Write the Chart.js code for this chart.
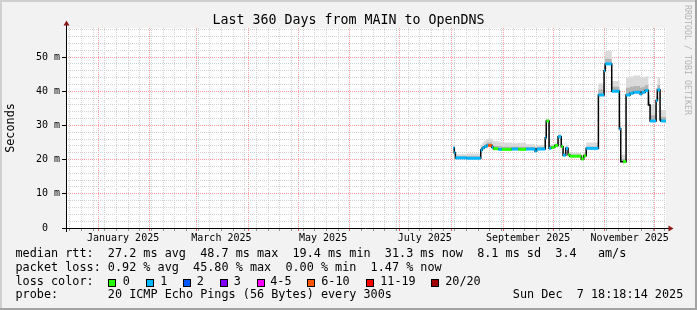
<!DOCTYPE html>
<html>
<head>
<meta charset="utf-8">
<title>Last 360 Days from MAIN to OpenDNS</title>
<script src="https://cdn.jsdelivr.net/npm/chart.js@4.4.1/dist/chart.umd.min.js"></script>
<style>
  html, body { margin: 0; padding: 0; background: #f2f2f2; }
  #wrap { position: relative; width: 697px; height: 310px; overflow: hidden;
          font-family: "DejaVu Sans Mono", monospace; color: #000; }
  #wrap canvas { position: absolute; left: 0; top: 0; }
  .txt { position: absolute; white-space: pre; line-height: 1; }
  #title { left: 0; width: 697px; top: 13px; text-align: center; font-size: 13.3px; }
  .leg { font-size: 11.8px; }
  .box { position: absolute; width: 6px; height: 6px; border: 1px solid #000; }
  #mark { font-size: 8.3px; color: #b4b4b4; left: 691.5px; top: 5px;
          transform: rotate(90deg); transform-origin: 0 0; }
</style>
</head>
<body>
<div id="wrap">
  <canvas id="chart" width="697" height="310"></canvas>
  <div class="txt" id="title">Last 360 Days from MAIN to OpenDNS</div>
  <div class="txt" id="mark">RRDTOOL / TOBI OETIKER</div>
  <div id="legend"></div>
</div>
<script>
// ── Data ─────────────────────────────────────────────────
// x = days since 1 Jan 2025, values in milliseconds

const DAYS = [
  213.1, 213.7, 214.4, 221.0, 229.6, 230.5, 231.7, 233.2, 234.1, 236.2,
  237.1, 240.1, 242.2, 248.2, 252.1, 256.8, 262.2, 263.2, 268.3, 268.9,
  270.6, 271.9, 274.0, 276.0, 277.9, 279.0, 280.6, 282.0, 283.0, 289.9,
  291.4, 292.9, 300.2, 303.6, 304.3, 308.2, 312.8, 313.6, 315.0, 316.8,
  319.2, 321.2, 325.2, 326.2, 328.2, 330.2, 331.2, 334.8, 335.6, 337.2,
  337.6, 340.76
];
const MEDIAN_MS = [
  23.4, 22.0, 20.5, 20.4, 22.8, 23.4, 23.8, 24.1, 24.1, 23.6,
  23.2, 23.0, 23.0, 23.1, 23.0, 23.1, 22.5, 23.1, 26.4, 31.3,
  23.3, 23.6, 24.1, 26.7, 23.8, 21.3, 23.3, 21.4, 21.0, 20.2,
  21.1, 23.3, 38.9, 46.0, 48.0, 40.0, 29.0, 19.4, 19.4, 38.9,
  39.4, 39.7, 39.2, 39.7, 40.2, 36.0, 31.3, 37.3, 40.4, 31.6,
  31.3, 31.3
];
// loss bucket index into LOSS_NAMES (null = no colour drawn)
const LOSS_BUCKET = [
  1, 1, 1, 1, 1, 1, 1, 1, 5, 1,
  0, 1, 0, 1, 0, 1, 1, 1, 1, 0,
  1, 0, 0, 1, 0, 1, 1, 0, 0, 0,
  0, 1, 1, 1, 1, 1, 1, null, 0, 1,
  1, 1, 1, 1, 1, null, 1, 1, 1, null,
  1, 1
];
const SMOKE_HI_MS = [
  24.2, 23.0, 21.6, 21.8, 24.3, 25.0, 25.6, 26.0, 26.2, 25.8,
  25.4, 25.2, 25.0, 24.8, 24.9, 24.5, 24.0, 24.3, 27.5, 32.0,
  24.3, 24.6, 25.0, 27.6, 24.8, 22.3, 24.2, 22.4, 22.0, 21.2,
  22.2, 25.0, 42.3, 50.0, 51.8, 43.0, 31.2, 21.5, 21.5, 44.0,
  44.3, 44.6, 44.0, 44.0, 44.3, 39.0, 36.0, 41.0, 44.0, 35.0,
  34.5, 34.5
];
const SMOKE_MID_MS = [
  23.8, 22.5, 21.0, 21.0, 23.4, 24.0, 24.5, 24.9, 25.0, 24.5,
  24.0, 23.9, 23.8, 23.8, 23.8, 23.7, 23.2, 23.7, 26.9, 31.6,
  23.8, 24.0, 24.5, 27.1, 24.2, 21.7, 23.7, 21.8, 21.4, 20.6,
  21.5, 23.8, 40.5, 47.5, 49.5, 41.3, 29.8, 20.2, 20.2, 41.0,
  41.3, 41.5, 41.0, 41.3, 41.8, 37.0, 33.0, 38.5, 41.8, 32.8,
  32.5, 32.5
];

const X_MIN = -19.24;   // Thu 12 Dec 2024 18:18
const X_MAX = 340.76;   // Sun  7 Dec 2025 18:18
const FIRST_SUNDAY = -17;
const MONTH_START_DAYS = [0, 31, 59, 90, 120, 151, 181, 212, 243, 273, 304, 334];
const X_LABEL_DAYS = [15, 74, 135, 196, 258, 319];
const X_LABELS = ["January 2025", "March 2025", "May 2025", "July 2025", "September 2025", "November 2025"];

const Y_MAX = 58.5;
const Y_MAJOR = [0, 10, 20, 30, 40, 50];
const Y_LABELS = ["0  ", "10 m", "20 m", "30 m", "40 m", "50 m"];

const LOSS_NAMES = ["0", "1", "2", "3", "4-5", "6-10", "11-19", "20/20"];
const LOSS_COLORS = ["#26ff00", "#00b8ff", "#0059ff", "#7e00ff", "#ff00ff", "#ff5500", "#ff0000", "#a10000"];

// ── Colours ──────────────────────────────────────────────

const BG = "#f2f2f2";
const GRID_MINOR = "#d2d2d2";
const GRID_MAJOR = "#ff9f9f";
const AXIS = "#000";
const ARROW = "#8b1a1a";

// ── Footer legend ────────────────────────────────────────

const LEGEND_ROWS = [
  { top: 248.4, items: [[15.5, "median rtt:  27.2 ms avg  48.7 ms max  19.4 ms min  31.3 ms now  8.1 ms sd  3.4   am/s"]] },
  { top: 262.0, items: [[15.5, "packet loss: 0.92 % avg  45.80 % max  0.00 % min  1.47 % now"]] },
  { top: 275.7, items: [[15.5, "loss color:"]] },
  { top: 289.3, items: [[15.5, "probe:       20 ICMP Echo Pings (56 Bytes) every 300s"], [512.8, "Sun Dec  7 18:18:14 2025"]] },
];
const LOSS_BOX_X = [108, 145.5, 182.5, 220, 256.5, 307, 365.5, 430.5];
const LOSS_TEXT_X = [122.8, 160.2, 196.8, 233.8, 270.2, 321.2, 380.2, 445.2];

function buildLegend() {
  const host = document.getElementById("legend");
  const add = (x, y, text) => {
    const el = document.createElement("div");
    el.className = "txt leg";
    el.style.left = x + "px";
    el.style.top = y + "px";
    el.textContent = text;
    host.appendChild(el);
  };
  LEGEND_ROWS.forEach((row) => row.items.forEach(([x, t]) => add(x, row.top, t)));
  LOSS_NAMES.forEach((name, i) => {
    const b = document.createElement("div");
    b.className = "box";
    b.style.left = LOSS_BOX_X[i] + "px";
    b.style.top = "278.5px";
    b.style.background = LOSS_COLORS[i];
    host.appendChild(b);
    add(LOSS_TEXT_X[i], LEGEND_ROWS[2].top, name);
  });
}

// ── Tick helpers ─────────────────────────────────────────

const isMonth = (v) => MONTH_START_DAYS.includes(v);
const isWeek = (v) => (v - FIRST_SUNDAY) % 7 === 0;

function xTickValues() {
  const set = new Set(MONTH_START_DAYS.concat(X_LABEL_DAYS));
  for (let d = FIRST_SUNDAY; d <= X_MAX; d += 7) set.add(d);
  return [...set].filter((v) => v >= X_MIN && v <= X_MAX).sort((a, b) => a - b);
}

// ── Chart pieces ─────────────────────────────────────────

const pts = (arr) => DAYS.map((d, i) => ({ x: d, y: arr[i] }));

// horizontal pieces of the median only, one per step, split by gaps
const lossPts = [];
for (let i = 0; i < DAYS.length - 1; i++) {
  lossPts.push({ x: DAYS[i], y: MEDIAN_MS[i] }, { x: DAYS[i + 1], y: MEDIAN_MS[i] }, { x: DAYS[i + 1], y: null });
}
const lossColor = (ctx) => {
  const b = LOSS_BUCKET[Math.floor(ctx.p0DataIndex / 3)];
  return b === null ? "rgba(0,0,0,0)" : LOSS_COLORS[b];
};

const framePlugin = {
  id: "frame",
  beforeDraw(chart) {
    const { ctx, chartArea: a, width: w, height: h } = chart;
    ctx.save();
    ctx.fillStyle = BG;
    ctx.fillRect(0, 0, w, h);
    ctx.fillStyle = "#cfcfcf";
    ctx.fillRect(0, 0, w, 2);
    ctx.fillRect(0, 0, 2, h);
    ctx.fillStyle = "#a3a3a3";
    ctx.fillRect(0, h - 2, w, 2);
    ctx.fillRect(w - 2, 0, 2, h);
    ctx.fillStyle = "#fff";
    ctx.fillRect(a.left, a.top, a.right - a.left, a.bottom - a.top);
    ctx.restore();
  },
  afterDraw(chart) {
    const { ctx, chartArea: a } = chart;
    const x0 = a.left + 0.5, y0 = a.bottom + 0.5;
    ctx.save();
    ctx.strokeStyle = AXIS;
    ctx.lineWidth = 1;
    ctx.beginPath();
    ctx.moveTo(x0, a.bottom + 4);
    ctx.lineTo(x0, a.top - 3);
    ctx.moveTo(a.left - 4, y0);
    ctx.lineTo(a.right + 3, y0);
    ctx.stroke();
    ctx.fillStyle = ARROW;
    ctx.beginPath();
    ctx.moveTo(x0 - 3, a.top - 2.5);
    ctx.lineTo(x0 + 3, a.top - 2.5);
    ctx.lineTo(x0, a.top - 7.5);
    ctx.closePath();
    ctx.fill();
    ctx.beginPath();
    ctx.moveTo(a.right + 2.5, y0 - 3);
    ctx.lineTo(a.right + 2.5, y0 + 3);
    ctx.lineTo(a.right + 7.5, y0);
    ctx.closePath();
    ctx.fill();
    ctx.restore();
  },
};

// ── Chart ────────────────────────────────────────────────

buildLegend();

new Chart(document.getElementById("chart"), {
  type: "line",
  data: {
    datasets: [
      { data: pts(SMOKE_HI_MS), stepped: true, borderWidth: 0, pointRadius: 0,
        backgroundColor: "#dadada", fill: 2, order: 4 },
      { data: pts(SMOKE_MID_MS), stepped: true, borderWidth: 0, pointRadius: 0,
        backgroundColor: "#b4b4b4", fill: 2, order: 3 },
      { data: pts(MEDIAN_MS), stepped: true, borderWidth: 1.5, borderColor: "#000",
        pointRadius: 0, fill: false, order: 2 },
      { data: lossPts, borderWidth: 3, borderCapStyle: "butt", pointRadius: 0, fill: false,
        spanGaps: false, segment: { borderColor: lossColor }, borderColor: LOSS_COLORS[1], order: 1 },
    ],
  },
  options: {
    responsive: false,
    animation: false,
    events: [],
    devicePixelRatio: 1,
    layout: { padding: { left: 0, top: 28, right: 31, bottom: 0 } },
    plugins: { legend: { display: false }, tooltip: { enabled: false } },
    scales: {
      x: {
        type: "linear",
        min: X_MIN,
        max: X_MAX,
        afterFit: (s) => { s.height = 82; },
        afterBuildTicks: (s) => { s.ticks = xTickValues().map((v) => ({ value: v })); },
        border: { display: false, dash: [1, 1] },
        grid: {
          lineWidth: 1,
          tickLength: 3,
          color: (c) => isMonth(c.tick.value) ? GRID_MAJOR : isWeek(c.tick.value) ? GRID_MINOR : "rgba(0,0,0,0)",
          tickColor: (c) => isMonth(c.tick.value) ? "#e06060" : isWeek(c.tick.value) ? "#999" : "rgba(0,0,0,0)",
        },
        ticks: {
          autoSkip: false,
          maxRotation: 0,
          minRotation: 0,
          padding: 1,
          color: "#000",
          font: { family: "DejaVu Sans Mono", size: 10 },
          callback: (v) => {
            const i = X_LABEL_DAYS.indexOf(v);
            return i < 0 ? "" : X_LABELS[i];
          },
        },
      },
      y: {
        min: 0,
        max: Y_MAX,
        afterFit: (s) => { s.width = 66; },
        afterBuildTicks: (s) => {
          const t = [];
          for (let v = 0; v < Y_MAX; v += 2) t.push({ value: v });
          s.ticks = t;
        },
        border: { display: false, dash: [1, 1] },
        grid: {
          lineWidth: 1,
          tickLength: 4,
          color: (c) => c.tick.value === 0 ? "rgba(0,0,0,0)" : Y_MAJOR.includes(c.tick.value) ? GRID_MAJOR : GRID_MINOR,
          tickColor: (c) => Y_MAJOR.includes(c.tick.value) ? "#000" : "rgba(0,0,0,0)",
        },
        ticks: {
          autoSkip: false,
          padding: 2,
          color: "#000",
          font: { family: "DejaVu Sans Mono", size: 10 },
          callback: (v) => {
            const i = Y_MAJOR.indexOf(v);
            return i < 0 ? "" : Y_LABELS[i];
          },
        },
        title: {
          display: true,
          text: "Seconds",
          color: "#000",
          padding: { top: 3.4, bottom: 0 },
          font: { family: "DejaVu Sans Mono", size: 11.8, weight: "normal" },
        },
      },
    },
  },
  plugins: [framePlugin],
});
</script>
</body>
</html>
